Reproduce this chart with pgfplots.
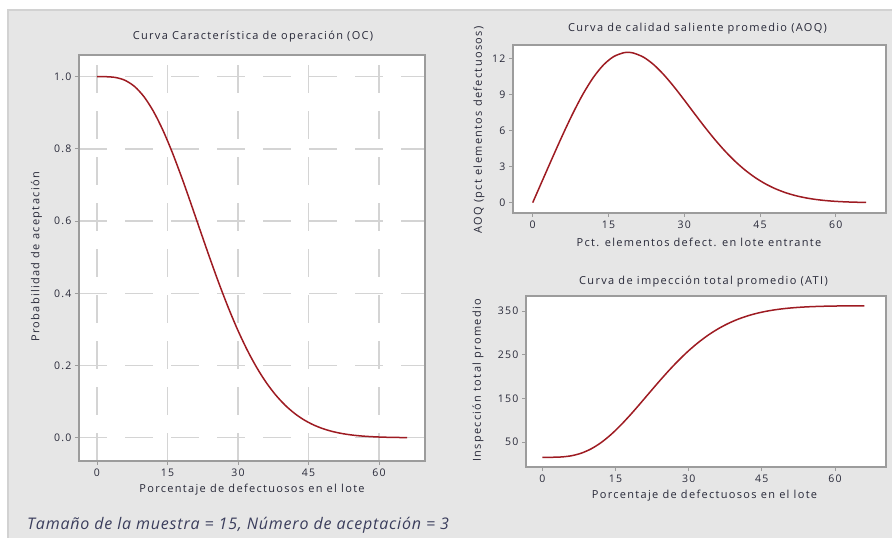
\documentclass[border=0pt]{standalone}
\usepackage{fontspec}
\setmainfont{Open Sans}
\newfontfamily\lbl[LetterSpace=12]{Open Sans}
\newfontfamily\foot[LetterSpace=5]{Open Sans}
\usepackage{pgfplots}
\usepackage{pgfplotstable}
\pgfplotsset{compat=1.18}

\definecolor{curve}{HTML}{9E1B22}
\definecolor{txt}{HTML}{272838}
\definecolor{foottxt}{HTML}{3A3D5C}
\definecolor{panel}{HTML}{E6E6E6}
\definecolor{panelline}{HTML}{D2D2D2}
\definecolor{frame}{HTML}{9C9C9C}
\definecolor{gridc}{HTML}{D4D4D4}

% n = 15, c = 3, lot size about 362
\pgfplotstableread{
p  pa      aoq      ati
0  1.00000 0.0000   15.00
2  0.99982 1.9168   15.06
4  0.99755 3.8249   15.85
6  0.98964 5.6918   18.59
8  0.97268 7.4590   24.48
10 0.94445 9.0532   34.28
12 0.90413 10.3999  48.27
14 0.85236 11.4386  66.23
16 0.79078 12.1282  87.60
18 0.72180 12.4540  111.54
19 0.68540 12.4830  124.17
20 0.64816 12.4261  137.09
22 0.57263 12.0758  163.30
24 0.49776 11.4512  189.28
26 0.42577 10.6113  214.26
28 0.35840 9.6194   237.64
30 0.29686 8.5368   258.99
32 0.24198 7.4225   278.03
34 0.19404 6.3240   294.67
36 0.15306 5.2818   308.89
38 0.11872 4.3244   320.80
40 0.09050 3.4700   330.60
42 0.06778 2.7288   338.48
44 0.04983 2.1017   344.71
46 0.03594 1.5847   349.53
48 0.02540 1.1687   353.19
50 0.01758 0.8426   355.90
52 0.01189 0.5927   357.87
54 0.00786 0.4069   359.27
56 0.00506 0.2716   360.24
58 0.00317 0.1762   360.90
60 0.00193 0.1110   361.33
62 0.00113 0.0672   361.61
64 0.00064 0.0393   361.78
66 0.00035 0.0221   361.88
}\plan

\pgfplotsset{mini/.style={scale only axis, anchor=south west,
  axis line style={frame, line width=1.2pt},
  tick align=outside, tick pos=left, major tick length=4pt,
  tick style={frame, line width=0.8pt},
  ticklabel style={font=\lbl\fontsize{10.5}{12}\selectfont, text=txt},
  /pgf/number format/assume math mode=true,
  axis background/.style={fill=white},
  xtick={0,15,30,45,60}},
  crv/.style={curve, line width=1.5pt, smooth, no marks}}

\begin{document}
\begin{tikzpicture}
\path[use as bounding box] (0,0) rectangle (892pt,538pt);
\fill[white] (0,0) rectangle (892pt,538pt);
\fill[panel] (8pt,0) rectangle (892pt,528pt);
\draw[panelline, line width=1.2pt] (8pt,0) -- (8pt,528pt) -- (892pt,528pt);

% OC
\begin{axis}[mini, at={(79pt,77pt)}, width=346pt, height=406pt,
  xmin=-3.83, xmax=69.8, ymin=-0.0645, ymax=1.06,
  ytick={0,0.2,0.4,0.6,0.8,1},
  yticklabel style={/pgf/number format/.cd, fixed, fixed zerofill, precision=1},
  grid=major, major grid style={gridc, line width=1.3pt, dash pattern=on 28pt off 18pt}]
\addplot[crv] table[x=p, y=pa] {\plan};
\end{axis}

% AOQ
\begin{axis}[mini, at={(513pt,325pt)}, width=373pt, height=168pt,
  xmin=-3.9, xmax=69.96, ymin=-0.856, ymax=13.1,
  ytick={0,3,6,9,12}]
\addplot[crv] table[x=p, y=aoq] {\plan};
\end{axis}

% ATI
\begin{axis}[mini, at={(526pt,71pt)}, width=360pt, height=171pt,
  xmin=-3.34, xmax=70.46, ymin=-7.2, ymax=384.3,
  ytick={50,150,250,350}]
\addplot[crv] table[x=p, y=ati] {\plan};
\end{axis}

\begin{scope}[every node/.style={text=txt, font=\lbl\fontsize{11}{13}\selectfont, inner sep=0}]
\node at (253pt,501pt) {Curva Característica de operación (OC)};
\node at (252pt,48pt) {Porcentaje de defectuosos en el lote};
\node[rotate=90] at (36.5pt,281pt) {Probabilidad de aceptación};
\node at (697.5pt,509pt) {Curva de calidad saliente promedio (AOQ)};
\node at (699pt,295.3pt) {Pct. elementos defect. en lote entrante};
\node[rotate=90] at (479pt,408pt) {AOQ (pct elementos defectuosos)};
\node at (703.5pt,256.3pt) {Curva de impección total promedio (ATI)};
\node at (704.5pt,42pt) {Porcentaje de defectuosos en el lote};
\node[rotate=90] at (478pt,157.5pt) {Inspección total promedio};
\end{scope}
\node[anchor=west, inner sep=0, text=foottxt, font=\foot\itshape\fontsize{16}{18}\selectfont]
  at (27pt,12.5pt) {Tamaño de la muestra = 15, Número de aceptación = 3};
\end{tikzpicture}
\end{document}
